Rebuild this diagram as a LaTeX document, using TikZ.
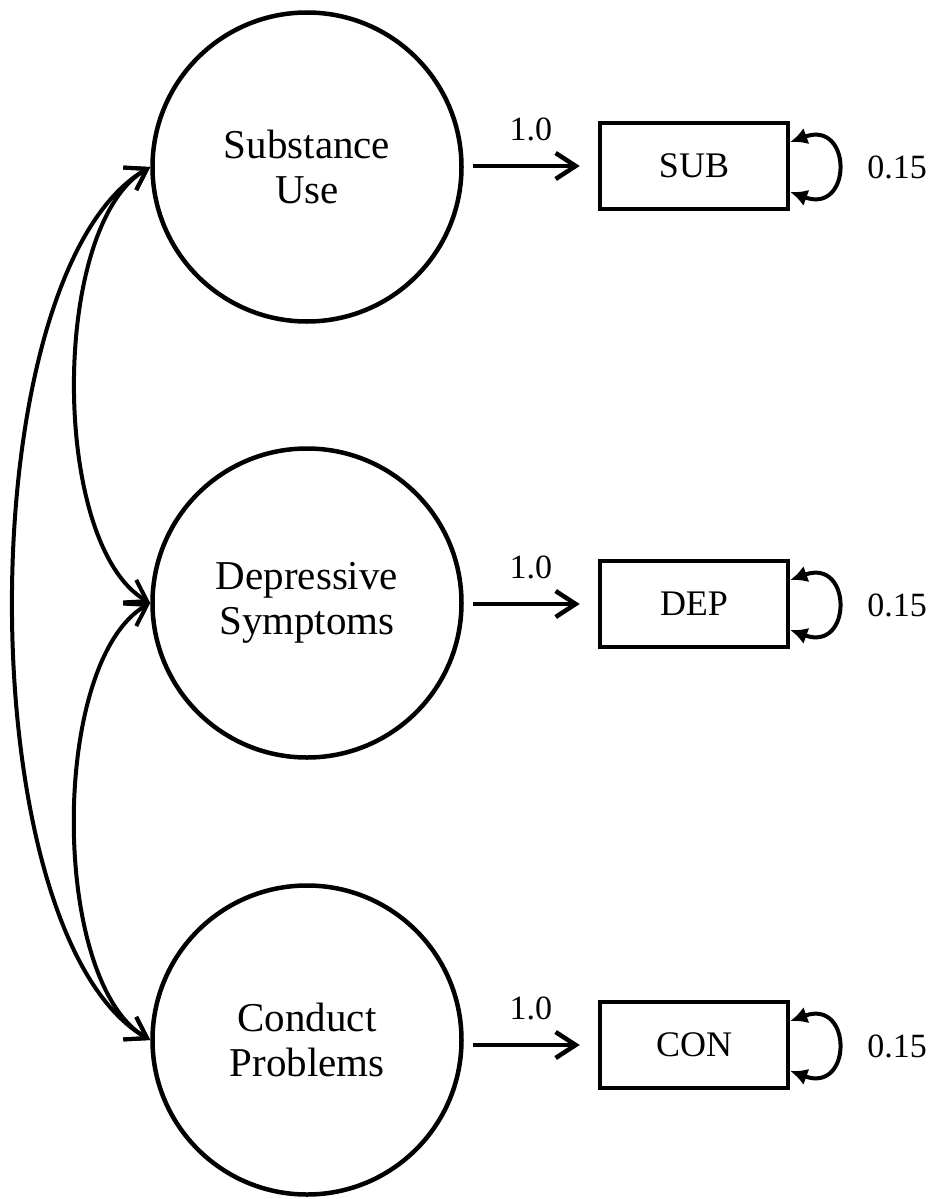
\documentclass[tikz,border=0pt]{standalone}
\usepackage{fontspec}
\setmainfont{Liberation Serif}
\usetikzlibrary{arrows.meta}

\tikzset{
  latent/.style={circle, draw, line width=4.5pt, minimum size=309pt, inner sep=0pt,
    align=center, font=\fontsize{41}{45}\selectfont},
  obsbox/.style={rectangle, draw, line width=4.5pt, minimum width=188pt,
    minimum height=86pt, inner sep=0pt, font=\fontsize{36}{40}\selectfont},
  loadarrow/.style={-{Straight Barb[length=20pt,width=26pt]}, line width=4.5pt,
    shorten <=9pt, shorten >=18pt},
  corrarrow/.style={{Straight Barb[length=20pt,width=26pt]}-{Straight Barb[length=20pt,width=26pt]},
    line width=4pt},
  residloop/.style={{Latex[length=17pt,width=17pt]}-{Latex[length=17pt,width=17pt]},
    line width=4pt},
  estlabel/.style={inner sep=0pt, font=\fontsize{34}{38}\selectfont}
}

\begin{document}
\begin{tikzpicture}[x=1pt,y=1pt]
\fill[color=white] (0.000000, -1199.000000) rectangle (934.000000, 0.000000);
\useasboundingbox (0.000000, -1199.000000) rectangle (934.000000, 0.000000);
% Drawing latent variables
\node[latent] (sub) at (307.000000, -167.000000) {Substance\\Use};
\node[latent] (dep) at (307.000000, -603.000000) {Depressive\\Symptoms};
\node[latent] (con) at (307.000000, -1040.000000) {Conduct\\Problems};
% Done with latent variables; drawing indicators
\node[obsbox] (subind) at (694.000000, -166.000000) {SUB};
\node[obsbox] (depind) at (694.000000, -604.000000) {DEP};
\node[obsbox] (conind) at (694.000000, -1045.000000) {CON};
% Loadings
\draw[loadarrow] (sub.east |- subind.west) -- (subind.west) node[estlabel, midway, above=23pt] {1.0};
\draw[loadarrow] (dep.east |- depind.west) -- (depind.west) node[estlabel, midway, above=23pt] {1.0};
\draw[loadarrow] (con.east |- conind.west) -- (conind.west) node[estlabel, midway, above=23pt] {1.0};
% Residual variances
\draw[residloop] ([yshift=24pt]subind.east) to[out=20, in=-20, looseness=3.4] ([yshift=-26pt]subind.east);
\draw[residloop] ([yshift=24pt]depind.east) to[out=20, in=-20, looseness=3.4] ([yshift=-26pt]depind.east);
\draw[residloop] ([yshift=24pt]conind.east) to[out=20, in=-20, looseness=3.4] ([yshift=-26pt]conind.east);
\node[estlabel] (subres) at (897.000000, -167.000000) {0.15};
\node[estlabel] (depres) at (897.000000, -605.000000) {0.15};
\node[estlabel] (conres) at (897.000000, -1046.000000) {0.15};
% Done with indicators; drawing covariances
\draw[corrarrow] (sub.west) to[out=210, in=150, looseness=0.68] (dep.west);
\draw[corrarrow] (dep.west) to[out=210, in=150, looseness=0.68] (con.west);
\draw[corrarrow] (sub.west) to[out=210, in=150, looseness=0.62] (con.west);
% Done with covariances
\end{tikzpicture}
\end{document}
